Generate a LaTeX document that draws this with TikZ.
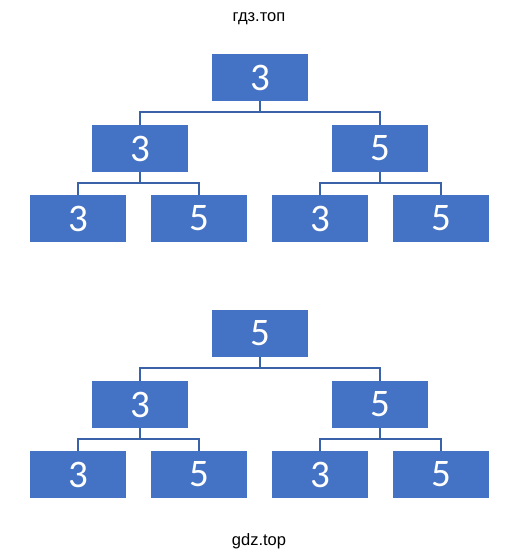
\documentclass[tikz,border=0pt]{standalone}
\usepackage{fontspec}
\setmainfont{Liberation Sans}
\newfontfamily\numfont{Carlito}
\usetikzlibrary{calc}

\begin{document}
\begin{tikzpicture}[
		x=1pt, y=-1pt,
		box/.style = {fill=boxblue, minimum width=96pt, minimum height=47pt, inner sep=0pt, text=white, font=\numfont\fontsize{39}{39}\selectfont},
		link/.style = {draw=linkblue, line width=2pt},
		caption/.style = {font=\fontsize{16.5}{16.5}\selectfont, inner sep=0pt}
	]
	\definecolor{boxblue}{HTML}{4472C4}
	\definecolor{linkblue}{HTML}{3A62A8}
	\useasboundingbox (0,0) rectangle (519,560);

	\node[caption] (ru) at (259,19)  {гдз.топ};
	\node[caption] (en) at (259,541) {gdz.top};

	\foreach \dy/\r/\t in {0/3/a, 256/5/b} {
		\node[box] (\t0)  at (260,77.5+\dy) {\r};
		\node[box] (\t1)  at (140,148.5+\dy) {3};
		\node[box] (\t2)  at (380,148.5+\dy) {5};
		\node[box] (\t11) at (78,218.5+\dy) {3};
		\node[box] (\t12) at (199,218.5+\dy) {5};
		\node[box] (\t21) at (320,218.5+\dy) {3};
		\node[box] (\t22) at (441,218.5+\dy) {5};

		\coordinate (\t m) at ($(\t0.south)+(0,11)$);
		\coordinate (\t l) at ($(\t1.south)+(0,11)$);
		\coordinate (\t r) at ($(\t2.south)+(0,11)$);

		\draw[link] (\t0.south) -- (\t m);
		\draw[link] (\t1.north) |- (\t m) -| (\t2.north);
		\draw[link] (\t1.south) -- (\t l);
		\draw[link] (\t11.north) |- (\t l) -| (\t12.north);
		\draw[link] (\t2.south) -- (\t r);
		\draw[link] (\t21.north) |- (\t r) -| (\t22.north);
	}
\end{tikzpicture}
\end{document}
